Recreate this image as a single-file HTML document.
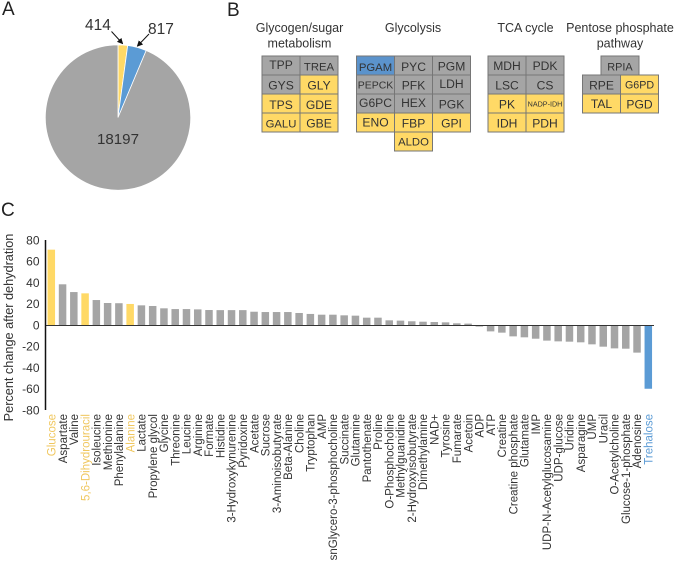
<!DOCTYPE html>
<html lang="en">
<head>
<meta charset="utf-8">
<title>Metabolite changes after dehydration</title>
<style>
html,body{margin:0;padding:0;background:#fff;}
svg{display:block;font-family:"Liberation Sans",sans-serif;}
.cell rect{stroke:#767676;stroke-width:1;}
.cell text{text-anchor:middle;fill:#333;font-size:12.1px;}
.g rect{fill:#a5a5a5;}
.y rect{fill:#ffd966;}
.b rect{fill:#5b93cc;}
.title{text-anchor:middle;fill:#333;font-size:12.5px;}
.panel{fill:#222;font-size:19px;}
.pie-label{fill:#333;font-size:15.5px;}
</style>
</head>
<body>
<svg id="fig" width="675" height="562" viewBox="0 0 675 562" xmlns="http://www.w3.org/2000/svg">
<defs>
<marker id="arrow" markerWidth="6" markerHeight="6" refX="5" refY="3" orient="auto"><path d="M0,0 L6,3 L0,6 Z" fill="#111"/></marker>
</defs>

<text class="panel" x="2" y="15">A</text>
<text class="panel" x="227" y="16">B</text>
<text class="panel" x="1" y="216">C</text>

<g id="pie"></g>
<text class="pie-label" x="85" y="30">414</text>
<text class="pie-label" x="148" y="34">817</text>
<text class="pie-label" x="97" y="144" style="font-size:15.1px">18197</text>
<line x1="111.500" y1="31.500" x2="122.500" y2="43.500" stroke="#111" stroke-width="1" marker-end="url(#arrow)"/>
<line x1="149" y1="34" x2="137.500" y2="46" stroke="#111" stroke-width="1" marker-end="url(#arrow)"/>

<text class="title" x="299.500" y="32">Glycogen/sugar</text>
<text class="title" x="299.500" y="47.500">metabolism</text>
<text class="title" x="413" y="32">Glycolysis</text>
<text class="title" x="525.500" y="32">TCA cycle</text>
<text class="title" x="620" y="32">Pentose phosphate</text>
<text class="title" x="620" y="47.500">pathway</text>

<g>
<g class="cell g"><rect x="262" y="56" width="38" height="19"/><text x="281" y="69">TPP</text></g>
<g class="cell g"><rect x="300" y="56" width="38" height="19"/><text x="319" y="70.500" style="font-size:11.3px">TREA</text></g>
<g class="cell g"><rect x="262" y="75" width="38" height="19"/><text x="281" y="89.500">GYS</text></g>
<g class="cell y"><rect x="300" y="75" width="38" height="19"/><text x="319" y="89.500">GLY</text></g>
<g class="cell y"><rect x="262" y="94" width="38" height="19"/><text x="281" y="109">TPS</text></g>
<g class="cell y"><rect x="300" y="94" width="38" height="19"/><text x="319" y="109">GDE</text></g>
<g class="cell y"><rect x="262" y="113" width="38" height="19"/><text x="281" y="127.500" style="font-size:11.3px">GALU</text></g>
<g class="cell y"><rect x="300" y="113" width="38" height="19"/><text x="319" y="127.500">GBE</text></g>
</g>

<g>
<g class="cell b"><rect x="356.500" y="56" width="38" height="19"/><text x="375.500" y="71" style="font-size:11.3px">PGAM</text></g>
<g class="cell g"><rect x="394.500" y="56" width="38" height="19"/><text x="413.500" y="71">PYC</text></g>
<g class="cell g"><rect x="432.500" y="56" width="38" height="19"/><text x="451.500" y="70.500">PGM</text></g>
<g class="cell g"><rect x="356.500" y="75" width="38" height="19"/><text x="375.500" y="88.500" style="font-size:10.500px">PEPCK</text></g>
<g class="cell g"><rect x="394.500" y="75" width="38" height="19"/><text x="413.500" y="89.500">PFK</text></g>
<g class="cell g"><rect x="432.500" y="75" width="38" height="19"/><text x="451.500" y="88">LDH</text></g>
<g class="cell g"><rect x="356.500" y="94" width="38" height="19"/><text x="375.500" y="107">G6PC</text></g>
<g class="cell g"><rect x="394.500" y="94" width="38" height="19"/><text x="413.500" y="107">HEX</text></g>
<g class="cell g"><rect x="432.500" y="94" width="38" height="19"/><text x="451.500" y="108.500">PGK</text></g>
<g class="cell y"><rect x="356.500" y="113" width="38" height="19"/><text x="375.500" y="126.500">ENO</text></g>
<g class="cell y"><rect x="394.500" y="113" width="38" height="19"/><text x="413.500" y="127.500">FBP</text></g>
<g class="cell y"><rect x="432.500" y="113" width="38" height="19"/><text x="451.500" y="127.500">GPI</text></g>
<g class="cell y"><rect x="394.500" y="132" width="38" height="19"/><text x="413.500" y="145.500" style="font-size:11.3px">ALDO</text></g>
</g>

<g>
<g class="cell g"><rect x="488" y="56" width="38" height="19"/><text x="507" y="70">MDH</text></g>
<g class="cell g"><rect x="526" y="56" width="38" height="19"/><text x="545" y="70">PDK</text></g>
<g class="cell g"><rect x="488" y="75" width="38" height="19"/><text x="507" y="89.500">LSC</text></g>
<g class="cell g"><rect x="526" y="75" width="38" height="19"/><text x="545" y="89.500">CS</text></g>
<g class="cell y"><rect x="488" y="94" width="38" height="19"/><text x="507" y="108.500">PK</text></g>
<g class="cell y"><rect x="526" y="94" width="38" height="19"/><text x="545" y="106.500" style="font-size:7.2px">NADP-IDH</text></g>
<g class="cell y"><rect x="488" y="113" width="38" height="19"/><text x="507" y="127.500">IDH</text></g>
<g class="cell y"><rect x="526" y="113" width="38" height="19"/><text x="545" y="127.500">PDH</text></g>
</g>

<g>
<g class="cell g"><rect x="601" y="56" width="38" height="19"/><text x="620" y="70.500" style="font-size:10.9px">RPIA</text></g>
<g class="cell g"><rect x="582.500" y="75" width="38" height="19"/><text x="601.500" y="89.500">RPE</text></g>
<g class="cell y"><rect x="620.500" y="75" width="38" height="19"/><text x="639.500" y="88.500" style="font-size:10.7px">G6PD</text></g>
<g class="cell y"><rect x="582.500" y="94" width="38" height="19"/><text x="601.500" y="108">TAL</text></g>
<g class="cell y"><rect x="620.500" y="94" width="38" height="19"/><text x="639.500" y="108.500">PGD</text></g>
</g>

<text transform="translate(13 327.500) rotate(-90)" text-anchor="middle" font-size="12.700" fill="#333">Percent change after dehydration</text>
<g id="chart"></g>
</svg>

<script>
var pieValues = [414, 817, 18197];
var pieColors = ['#ffd966', '#5b9bd5', '#a5a5a5'];
var pieNames = ['pie-slice-414', 'pie-slice-817', 'pie-slice-18197'];

var yTicks = [80, 60, 40, 20, 0, -20, -40, -60, -80];
var categories = ['Glucose','Aspartate','Valine','5,6-Dihydrouracil','Isoleucine','Methionine','Phenylalanine','Alanine','Lactate','Propylene glycol','Glycine','Threonine','Leucine','Arginine','Formate','Histidine','3-Hydroxykynurenine','Pyridoxine','Acetate','Sucrose','3-Aminoisobutyrate','Beta-Alanine','Choline','Tryptophan','AMP','snGlycero-3-phosphocholine','Succinate','Glutamine','Pantothenate','Proline','O-Phosphocholine','Methylguanidine','2-Hydroxyisobutyrate','Dimethylamine','NAD+','Tyrosine','Fumarate','Acetoin','ADP','ATP','Creatine','Creatine phosphate','Glutamate','IMP','UDP-N-Acetylglucosamine','UDP-glucose','Uridine','Asparagine','UMP','Uracil','O-Acetylcholine','Glucose-1-phosphate','Adenosine','Trehalose'];
var percentChange = [70.9,38.3,31,29.8,23.5,20.7,20.5,19.8,18.5,17.9,15.7,15,15,14.7,14.1,14,14,14,12.5,12.2,12.2,12.2,11.3,10.4,9.7,9.7,9.1,8.8,6.9,6.9,4.4,4.1,3.5,3.1,2.8,2.5,1.6,1.3,-1.5,-6,-7.2,-10.7,-11.6,-12.9,-14.7,-15.4,-15.7,-16.3,-18.2,-20.4,-22,-22.3,-26,-60];
var yellowCategories = ['Glucose','5,6-Dihydrouracil','Alanine'];
var blueCategories = ['Trehalose'];

var NS = 'http://www.w3.org/2000/svg';
function mk(parent, tag, attrs, txt) {
  var el = document.createElementNS(NS, tag);
  for (var k in attrs) el.setAttribute(k, attrs[k]);
  if (txt !== undefined) el.textContent = txt;
  parent.appendChild(el);
  return el;
}

/* pie */
var pieG = document.getElementById('pie');
var cx = 118, cy = 117.5, r = 72.7;
var total = pieValues.reduce(function (a, b) { return a + b; }, 0);
var acc = 0;
pieValues.forEach(function (v, i) {
  var a0 = acc / total * 2 * Math.PI;
  acc += v;
  var a1 = acc / total * 2 * Math.PI;
  var large = a1 - a0 > Math.PI ? 1 : 0;
  var d = 'M' + cx + ',' + cy +
    ' L' + (cx + r * Math.sin(a0)) + ',' + (cy - r * Math.cos(a0)) +
    ' A' + r + ',' + r + ' 0 ' + large + ' 1 ' + (cx + r * Math.sin(a1)) + ',' + (cy - r * Math.cos(a1)) + ' Z';
  var slice = mk(pieG, 'path', { d: d, fill: pieColors[i], stroke: '#fff', 'stroke-width': 0.8 });
  
  
});

/* bar chart */
var chart = document.getElementById('chart');
var zeroY = 325, pxPerUnit = 1.0625;
var firstX = 51.3, pitch = 597 / (categories.length - 1), barW = 7.5;
function yScale(v) { return zeroY - v * pxPerUnit; }
function xScale(i) { return firstX + i * pitch; }
function colorFor(name, dflt, yellow, blue) {
  if (yellowCategories.indexOf(name) >= 0) return yellow;
  if (blueCategories.indexOf(name) >= 0) return blue;
  return dflt;
}

percentChange.forEach(function (v, i) {
  var top = Math.min(yScale(v), zeroY);
  var h = Math.abs(yScale(v) - zeroY);
  var bar = mk(chart, 'rect', {
    x: xScale(i) - barW / 2, y: top, width: barW, height: h,
    fill: colorFor(categories[i], '#a5a5a5', '#ffd966', '#5b9bd5')
  });
  
  
});

categories.forEach(function (c, i) {
  var x = xScale(i) + 4.2;
  var label = mk(chart, 'text', {
    transform: 'translate(' + x + ' 414) rotate(-90)',
    'text-anchor': 'end', 'font-size': 11.5,
    fill: colorFor(c, '#333', '#f0c75e', '#5b9bd5')
  }, c);
  
  
});

yTicks.forEach(function (t) {
  var tick = mk(chart, 'text', {
    x: 39.5, y: yScale(t) + 4.3, 'text-anchor': 'end', 'font-size': 12, fill: '#333'
  }, String(t));
  
  
});

var xAxis = mk(chart, 'line', { x1: 45, x2: 654, y1: zeroY + 0.5, y2: zeroY + 0.5, stroke: '#333', 'stroke-width': 1 });


var yAxis = mk(chart, 'line', { x1: 45.5, x2: 45.5, y1: yScale(80), y2: yScale(-80), stroke: '#111', 'stroke-width': 1.5 });


</script>
</body>
</html>
